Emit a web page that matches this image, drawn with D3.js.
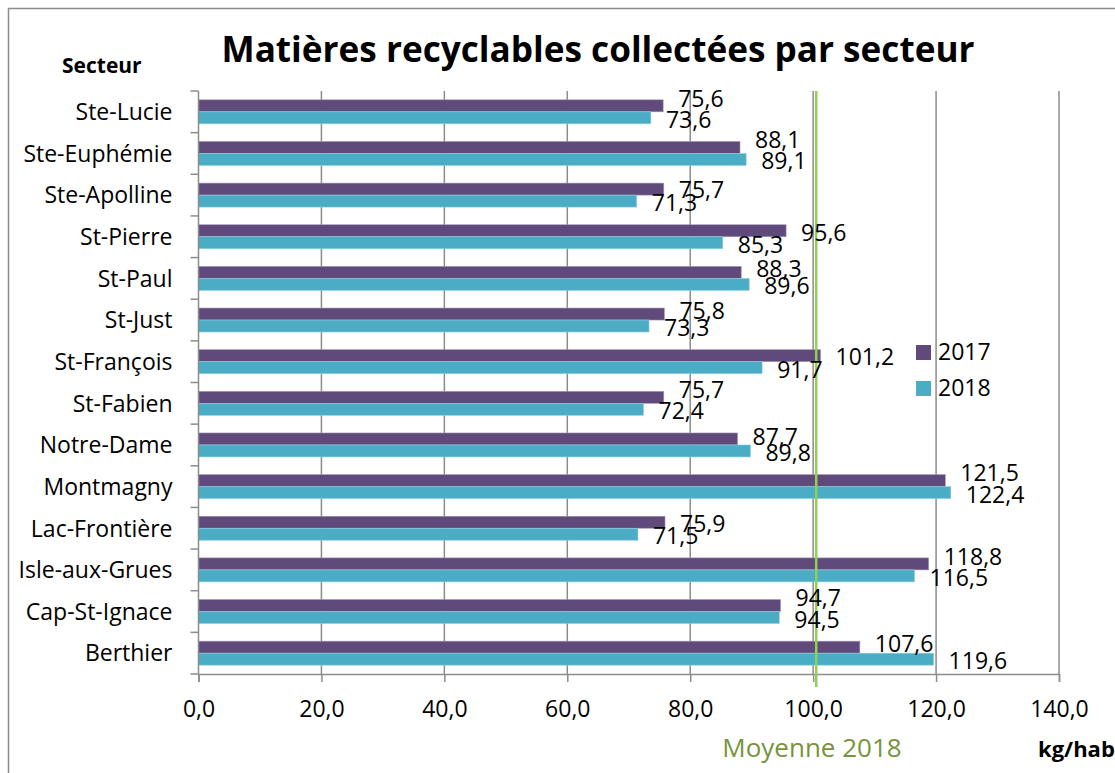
<!DOCTYPE html>
<html>
<head>
<meta charset="utf-8">
<script src="https://cdn.jsdelivr.net/npm/d3@7"></script>
<style>
  body { margin: 0; background: #fff; }
  svg { display: block; font-family: "Open Sans", sans-serif; }
</style>
</head>
<body>
<div id="chart"></div>
<script>
// data
const secteurs = ["Ste-Lucie", "Ste-Euphémie", "Ste-Apolline", "St-Pierre", "St-Paul", "St-Just",
  "St-François", "St-Fabien", "Notre-Dame", "Montmagny", "Lac-Frontière", "Isle-aux-Grues",
  "Cap-St-Ignace", "Berthier"];
const valeurs2017 = [75.6, 88.1, 75.7, 95.6, 88.3, 75.8, 101.2, 75.7, 87.7, 121.5, 75.9, 118.8, 94.7, 107.6];
const valeurs2018 = [73.6, 89.1, 71.3, 85.3, 89.6, 73.3, 91.7, 72.4, 89.8, 122.4, 71.5, 116.5, 94.5, 119.6];
const annees = ["2017", "2018"];
const xTicks = [0, 20, 40, 60, 80, 100, 120, 140];
const moyenne2018 = 100.5;

// label nudges (Excel moved some 2017 labels down), px below bar centre
const decalage2017 = [1, 0.5, 8.5, 10.5, 4.5, 4.5, 9.5, 0.5, 6.5, 0.5, 9.5, 1.5, 0.5, 4.5];

const couleurs = { "2017": "#604a7b", "2018": "#4bacc6" };
const gris = "#8c8c8c";

const W = 1115, H = 773;
const svg = d3.select("#chart").append("svg")
  .attr("width", W)
  .attr("height", H);

// frame
svg.append("rect")
  .attr("x", 8.5).attr("y", 8.5)
  .attr("width", 1200).attr("height", 900)
  .attr("fill", "#fff")
  .attr("stroke", gris)
  .attr("stroke-width", 1.5);

const x = d3.scaleLinear().domain([0, 140]).range([198.5, 1059]);
const y = d3.scaleBand().domain(secteurs).range([91, 674]);
const yInner = d3.scaleBand().domain(annees)
  .range([y.bandwidth() / 2 - 12, y.bandwidth() / 2 + 12]);

// rows table
const rows = secteurs.map((s, i) => ({
  secteur: s,
  i: i,
  vals: [
    { annee: "2017", v: valeurs2017[i] },
    { annee: "2018", v: valeurs2018[i] }
  ]
}));

// vertical gridlines
svg.append("g")
  .selectAll("line")
  .data(xTicks.slice(1))
  .enter()
  .append("line")
    .attr("x1", d => x(d)).attr("x2", d => x(d))
    .attr("y1", 91).attr("y2", 674)
    .attr("stroke", gris)
    .attr("stroke-width", 1.5);

// bars
const groupes = svg.append("g")
  .selectAll("g")
  .data(rows)
  .enter()
  .append("g")
    .attr("transform", d => "translate(0," + y(d.secteur) + ")");

groupes.selectAll("rect")
  .data(d => d.vals)
  .enter()
  .append("rect")
    .attr("x", x(0))
    .attr("y", d => yInner(d.annee))
    .attr("width", d => x(d.v) - x(0))
    .attr("height", yInner.bandwidth())
    .attr("fill", d => couleurs[d.annee])
    .attr("stroke", d => d.annee == "2017" ? "#a597b8" : "#93d0e0")
    .attr("stroke-width", 0.6);

// x axis
const xAxis = svg.append("g")
  .attr("transform", "translate(0,674)")
  .call(d3.axisBottom(x)
    .tickValues(xTicks)
    .tickSize(8)
    .tickFormat(d => d3.format(".1f")(d).replace(".", ",")));
xAxis.select(".domain").attr("stroke", gris).attr("stroke-width", 1.5);
xAxis.selectAll(".tick line").attr("stroke", gris).attr("stroke-width", 1.5);
xAxis.selectAll(".tick text")
  .attr("y", 43).attr("dy", null)
  .attr("fill", "#000")
  .style("font-size", "23px")
  .style("font-family", "Open Sans");

// y axis (labels), ticks between categories
const yAxis = svg.append("g")
  .attr("transform", "translate(" + x(0) + ",0)")
  .call(d3.axisLeft(y).tickSize(0).tickPadding(26));
yAxis.select(".domain").remove();
yAxis.selectAll(".tick text")
  .attr("dy", "0.36em")
  .attr("fill", "#000")
  .style("font-size", "23px")
  .style("font-family", "Open Sans");

svg.append("line")
  .attr("x1", x(0)).attr("x2", x(0))
  .attr("y1", 91).attr("y2", 674)
  .attr("stroke", gris).attr("stroke-width", 1.5);
svg.append("g")
  .selectAll("line")
  .data(d3.range(secteurs.length + 1))
  .enter()
  .append("line")
    .attr("x1", x(0) - 8).attr("x2", x(0))
    .attr("y1", i => 91 + i * y.step())
    .attr("y2", i => 91 + i * y.step())
    .attr("stroke", gris).attr("stroke-width", 1.5);

// average line
svg.append("line")
  .attr("x1", x(moyenne2018)).attr("x2", x(moyenne2018))
  .attr("y1", 91).attr("y2", 687)
  .attr("stroke", "#92d050")
  .attr("stroke-width", 2.5);

// data labels
const etiquettes = svg.append("g")
  .style("font-size", "23px")
  .attr("fill", "#000");
rows.forEach(r => {
  r.vals.forEach(d => {
    const cy = y(r.secteur) + yInner(d.annee) + yInner.bandwidth() / 2;
    const dy = d.annee == "2017" ? decalage2017[r.i] : 10;
    etiquettes.append("text")
      .attr("x", x(d.v) + 15)
      .attr("y", cy + dy)
      .text(d3.format(".1f")(d.v).replace(".", ","));
  });
});

// legend
const legende = svg.append("g").attr("transform", "translate(916,345)");
annees.forEach((a, i) => {
  legende.append("rect")
    .attr("x", 0).attr("y", i * 36)
    .attr("width", 15).attr("height", 15)
    .attr("fill", couleurs[a]);
  legende.append("text")
    .attr("x", 22).attr("y", i * 36 + 15)
    .style("font-size", "23px")
    .text(a);
});

// titles
svg.append("text")
  .attr("x", 598).attr("y", 62)
  .attr("text-anchor", "middle")
  .attr("textLength", 753)
  .attr("lengthAdjust", "spacingAndGlyphs")
  .style("font-size", "36px")
  .style("font-weight", "bold")
  .text("Matières recyclables collectées par secteur");

svg.append("text")
  .attr("x", 62).attr("y", 73)
  .style("font-size", "21px")
  .style("font-weight", "bold")
  .text("Secteur");

svg.append("text")
  .attr("x", 812).attr("y", 757)
  .attr("text-anchor", "middle")
  .attr("fill", "#77933c")
  .style("font-size", "26px")
  .text("Moyenne 2018");

svg.append("text")
  .attr("x", 1038).attr("y", 757)
  .style("font-size", "22px")
  .style("font-weight", "bold")
  .text("kg/hab");
</script>
</body>
</html>
